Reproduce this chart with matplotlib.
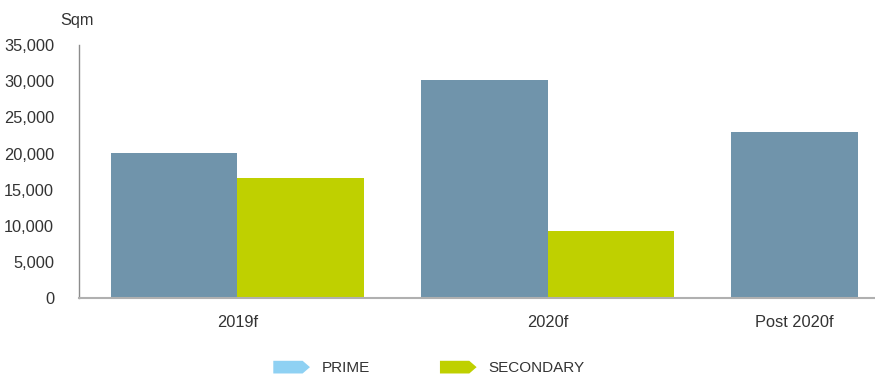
import matplotlib.pyplot as plt
import numpy as np
from matplotlib.patches import Polygon
from matplotlib.legend_handler import HandlerPatch
from matplotlib.ticker import FuncFormatter

categories = ['2019f', '2020f', 'Post 2020f']
prime = [20100, 30200, 23000]
secondary = [16650, 9300, 0]

bar_prime = '#7094ab'
bar_secondary = '#bfd000'
key_prime = '#8fd1f3'
key_secondary = '#bfd000'
text_col = '#333333'

plt.rcParams['font.family'] = ['Liberation Sans', 'DejaVu Sans']


class ChevronHandler(HandlerPatch):
    # arrow-shaped legend keys
    def create_artists(self, legend, orig_handle, xdescent, ydescent,
                       width, height, fontsize, trans):
        x0, y0 = -xdescent, -ydescent
        tip = width * 0.2
        pts = [[x0, y0], [x0 + width - tip, y0], [x0 + width, y0 + height / 2],
               [x0 + width - tip, y0 + height], [x0, y0 + height]]
        p = Polygon(pts, closed=True, facecolor=orig_handle.get_facecolor(),
                    edgecolor='none', transform=trans)
        return [p]


fig = plt.figure(figsize=(8.75, 3.76), dpi=100)
ax = fig.add_axes([0.0903, 0.2074, 0.9097, 0.6726])

x = np.arange(len(categories))
off = 0.204
w = 2 * off
ax.bar(x - off, prime, width=w, color=bar_prime, linewidth=0)
ax.bar(x + off, secondary, width=w, color=bar_secondary, linewidth=0)

# center label on the prime bar when there is no secondary value
tick_pos = [xi if s > 0 else xi - off for xi, s in zip(x, secondary)]
ax.set_xticks(tick_pos)
ax.set_xticklabels(categories)

ax.set_xlim(-0.511, 2.056)
ax.set_ylim(0, 35000)
ax.set_yticks(np.arange(0, 35001, 5000))
ax.yaxis.set_major_formatter(FuncFormatter(lambda v, p: f'{int(v):,}'))

ax.tick_params(axis='both', length=0, labelsize=11.8, colors=text_col)
ax.tick_params(axis='y', pad=18)
ax.tick_params(axis='x', pad=12)
for side in ['top', 'right']:
    ax.spines[side].set_visible(False)
ax.spines['left'].set_color('#8c8c8c')
ax.spines['bottom'].set_color('#b0b0b0')
ax.spines['left'].set_linewidth(1)
ax.spines['bottom'].set_linewidth(1.5)

fig.text(0.069, 0.945, 'Sqm', fontsize=11.8, color=text_col, ha='left', va='center')

h1 = plt.Rectangle((0, 0), 1, 1, facecolor=key_prime)
h2 = plt.Rectangle((0, 0), 1, 1, facecolor=key_secondary)
fig.legend([h1, h2], ['PRIME', 'SECONDARY'], loc='center',
           bbox_to_anchor=(0.49, 0.021), ncol=2, frameon=False,
           fontsize=11, labelcolor=text_col, handlelength=2.4,
           handleheight=0.9, handletextpad=0.75, columnspacing=4.6,
           handler_map={plt.Rectangle: ChevronHandler()})

fig.savefig('out.png', dpi=100)
